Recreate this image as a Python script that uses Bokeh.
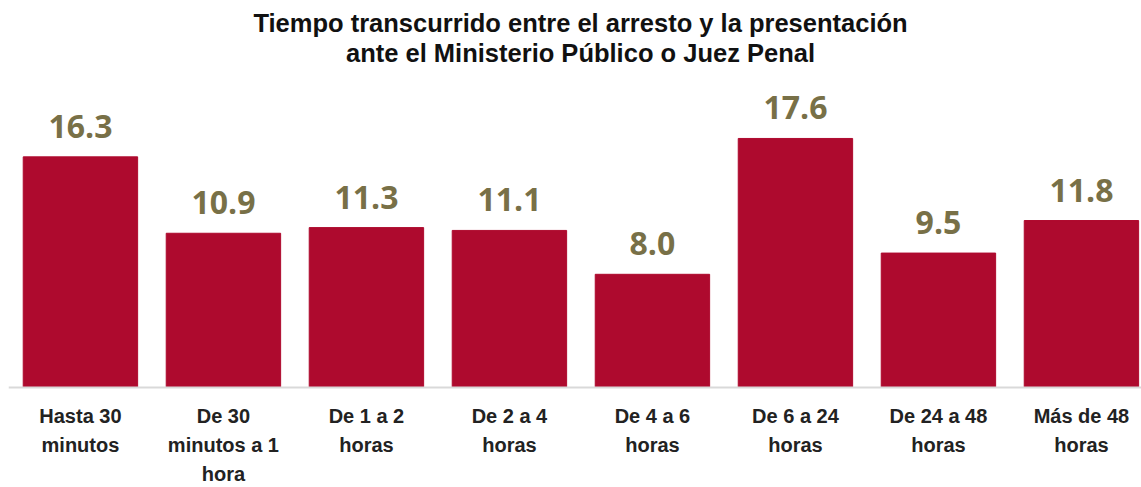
from bokeh.plotting import figure
from bokeh.models import ColumnDataSource, LabelSet, Range1d, Label, Span
from bokeh.core.properties import value
from bokeh.embed import file_html
from bokeh.resources import INLINE

categories = ["Hasta 30\nminutos", "De 30\nminutos a 1\nhora", "De 1 a 2\nhoras", "De 2 a 4\nhoras",
              "De 4 a 6\nhoras", "De 6 a 24\nhoras", "De 24 a 48\nhoras", "Más de 48\nhoras"]
values = [16.3, 10.9, 11.3, 11.1, 8.0, 17.6, 9.5, 11.8]
title_lines = ["Tiempo transcurrido entre el arresto y la presentación",
               "ante el Ministerio Público o Juez Penal"]

xs = list(range(len(categories)))
source = ColumnDataSource(dict(x=xs, top=values, zero=[0] * len(xs), cat=categories,
                               label=[f"{v:.1f}" for v in values]))

H = 487
base_px = 387          # baseline pixel row
ppu = 14.15            # pixels per unit of value
y_start = -(H - base_px) / ppu
y_end = base_px / ppu

p = figure(width=1141, height=H, output_backend="svg", toolbar_location=None,
           x_range=Range1d(-0.503, 7.42), y_range=Range1d(y_start, y_end),
           min_border_left=8, min_border_right=0, min_border_bottom=0, min_border_top=0)

title_x = 3.497
for line, row_px in zip(title_lines, [22, 52]):
    p.add_layout(Label(x=title_x, y=(base_px - row_px) / ppu, text=line, text_align="center",
                       text_baseline="middle", text_font="Liberation Sans",
                       text_font_style="bold", text_font_size="25.5px", text_color="#111111"))

p.vbar(x="x", top="top", width=0.8, bottom=0, source=source, color="#AE0A2E")

p.add_layout(Span(location=0, dimension="width", line_color="#d9d9d9", line_width=2))

labels = LabelSet(x="x", y="top", text="label", source=source, text_align="center",
                  text_baseline="alphabetic", y_offset=19, text_font=value("Open Sans"),
                  text_font_style="bold", text_font_size="32px", text_color="#787047")
p.add_layout(labels)

p.text(x="x", y="zero", text="cat", source=source, text_align="center", text_baseline="top",
       y_offset=17, text_font=value("Liberation Sans"), text_font_style="bold",
       text_font_size="20px", text_color="#222222", text_line_height=1.32)

p.xaxis.visible = False
p.yaxis.visible = False
p.xgrid.visible = False
p.ygrid.visible = False
p.outline_line_color = None

open("out.html", "w").write(file_html(p, INLINE))
